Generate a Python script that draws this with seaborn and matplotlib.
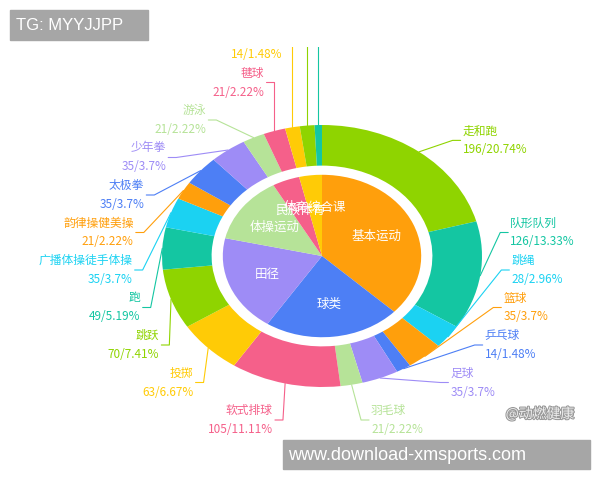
import numpy as np
import matplotlib
matplotlib.use('Agg')
import matplotlib.pyplot as plt
import matplotlib.patheffects as pe
from matplotlib.patches import Rectangle
import seaborn as sns

sns.set_style('white')
plt.rcParams['font.family'] = ['Noto Sans CJK SC', 'DejaVu Sans']

# outer ring: items, clockwise from 12 o'clock
outer_names = ['走和跑', '队形队列', '跳绳', '篮球', '乒乓球', '足球', '羽毛球',
               '软式排球', '投掷', '跳跃', '跑', '广播体操徒手体操', '韵律操健美操',
               '太极拳', '少年拳', '游泳', '毽球', '轮滑', '武术操', '其他']
outer_vals = [196, 126, 28, 35, 14, 35, 21, 105, 63, 70, 49, 35, 21, 35, 35,
              21, 21, 14, 14, 7]

# inner pie: groups
inner_names = ['基本运动', '球类', '田径', '体操运动', '民族体育', '体育综合课']
inner_vals = [350, 210, 182, 126, 42, 35]

cycle = ['#8fd400', '#14c6a2', '#1bd2f2', '#ff9f0c', '#4d7ff5',
         '#9e8cf6', '#b6e398', '#f5608a', '#ffcb06']
outer_cols = [cycle[i % 9] for i in range(len(outer_vals))]
inner_cols = [cycle[(i + 3) % 9] for i in range(len(inner_vals))]

#pixel geometry of the ellipse (picture is stretched)
CX, CY, RX, RY = 322, 256, 160, 131
W, H, TOP = 600, 480, 47

def dx(px):
    return (px - CX) / RX

def dy(py):
    return (CY - py) / RY

fig = plt.figure(figsize=(6, 4.8), dpi=100)
ax = fig.add_axes([0, 0, 1, (H - TOP) / H])

ax.pie(outer_vals, radius=1, startangle=90, counterclock=False, colors=outer_cols,
       wedgeprops=dict(width=0.31, edgecolor='none'))
ax.pie(inner_vals, radius=0.62, startangle=90, counterclock=False, colors=inner_cols,
       wedgeprops=dict(edgecolor='none'))
ax.set_aspect('auto')
ax.set_xlim(dx(0), dx(W))
ax.set_ylim(dy(H), dy(TOP))
ax.axis('off')

# inner labels
tot_in = sum(inner_vals)
cum = np.cumsum(inner_vals)
for name, v, c in zip(inner_names, inner_vals, cum):
    a = np.radians((c - v / 2) / tot_in * 360)
    ax.text(0.62 * 0.6 * np.sin(a), 0.62 * 0.6 * np.cos(a), name, color='white',
            fontsize=9, ha='center', va='center', clip_on=True)

# outer labels with simple overlap avoidance
total = sum(outer_vals)
cum = np.cumsum(outer_vals)
items = []
for i, (v, c) in enumerate(zip(outer_vals, cum)):
    a = (c - v / 2) / total * 360
    r = np.radians(a)
    items.append(dict(i=i, a=a, side=1 if a < 180 else -1,
                      ax=CX + RX * np.sin(r), ay=CY - RY * np.cos(r),
                      ny=CY - 1.11 * RY * np.cos(r)))

SP, BOTTOM = 37.5, 420
for side in (1, -1):
    grp = sorted([it for it in items if it['side'] == side], key=lambda t: t['ny'])
    ys = [g['ny'] for g in grp]
    for k in range(1, len(ys)):
        ys[k] = max(ys[k], ys[k - 1] + SP)
    ys[-1] = min(ys[-1], BOTTOM)
    for k in range(len(ys) - 2, -1, -1):
        ys[k] = min(ys[k], ys[k + 1] - SP)
    for g, y in zip(grp, ys):
        g['cy'] = y

for it in items:
    i, s, cy = it['i'], it['side'], it['cy']
    col = outer_cols[i]
    d = cy - CY
    ex = 180 * np.sqrt(max(0.0, 1 - (d / 168) ** 2))
    ex = max(ex, abs(it['ax'] - CX))
    elbow = CX + s * ex
    edge = elbow + s * 10
    ax.plot([dx(it['ax']), dx(elbow), dx(edge - s * 2)], [dy(it['ay']), dy(cy), dy(cy)],
            color=col, lw=0.8, clip_on=True)
    ha = 'left' if s > 0 else 'right'
    pct = round(outer_vals[i] / total * 100, 2)
    # the top of the picture is cut away, labels up there are not shown
    if cy - 9.5 > TOP + 6:
        ax.text(dx(edge), dy(cy - 9.5), outer_names[i], color=col, fontsize=8.5,
                ha=ha, va='center', clip_on=True)
    if cy + 9.5 > TOP + 6:
        ax.text(dx(edge), dy(cy + 9.5), f'{outer_vals[i]}/{pct:g}%', color=col,
                fontsize=8.5, ha=ha, va='center', clip_on=True)

# watermark and banners
fig.text(540 / W, 1 - 414 / H, '@动燃健康', fontsize=10, color='#eeeeee',
         ha='center', va='center',
         path_effects=[pe.withStroke(linewidth=1.5, foreground='#999999')])
fig.patches.append(Rectangle((10 / W, 1 - 40 / H), 138 / W, 30 / H,
                             transform=fig.transFigure, color='#a6a6a6'))
fig.text(16 / W, 1 - 25 / H, 'TG: MYYJJPP', fontsize=12, color='white',
         family='Liberation Sans', va='center')
fig.patches.append(Rectangle((283 / W, 1 - 469 / H), 307 / W, 29 / H,
                             transform=fig.transFigure, color='#a6a6a6'))
fig.text(288 / W, 1 - 455 / H, 'www.download-xmsports.com', fontsize=13,
         color='white', family='Liberation Sans', va='center')

fig.savefig('out.png', dpi=100, facecolor='white')
